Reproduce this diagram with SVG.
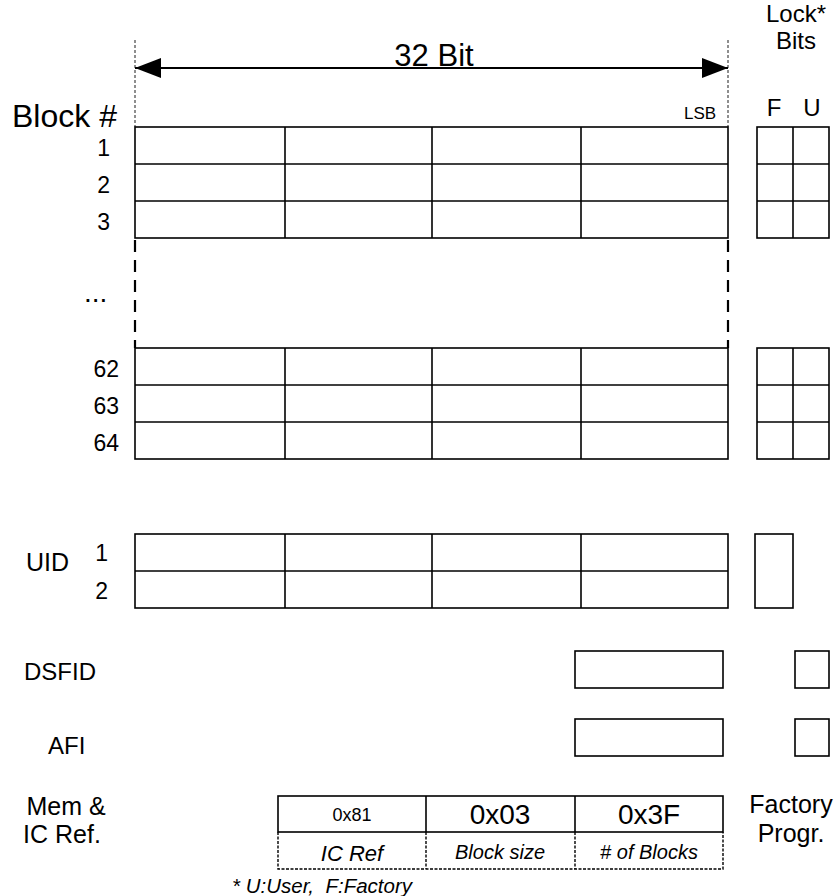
<svg xmlns="http://www.w3.org/2000/svg" width="838" height="896" viewBox="0 0 838 896">
<defs>
<style>
.c{fill:none;stroke:#000;stroke-width:1.6}
.t{font-family:"Liberation Sans",Arial,sans-serif;fill:#000}
.dash{fill:none;stroke:#000;stroke-width:2.2;stroke-dasharray:12 8}
.fine{fill:none;stroke:#444;stroke-width:1.2;stroke-dasharray:3 2}
.dot{fill:none;stroke:#000;stroke-width:1.4;stroke-dasharray:3 1.5}
</style>
<marker id="ah2" viewBox="0 0 26 20" refX="26" refY="10" markerWidth="26" markerHeight="20" markerUnits="userSpaceOnUse" orient="auto-start-reverse"><path d="M0,0 L26,10 L0,20 z" fill="#000"/></marker>
</defs>
<rect width="838" height="896" fill="#fff"/>

<g id="header">
<line class="fine" x1="135" y1="40" x2="135" y2="127"/>
<line class="fine" x1="728" y1="40" x2="728" y2="127"/>
<line x1="135" y1="68" x2="728" y2="68" stroke="#000" stroke-width="2" marker-start="url(#ah2)" marker-end="url(#ah2)"/>
<text class="t" x="434" y="66" font-size="31" text-anchor="middle">32 Bit</text>
<text class="t" x="700" y="119" font-size="17" text-anchor="middle">LSB</text>
<text class="t" x="12" y="127" font-size="32">Block #</text>
<text class="t" x="796" y="22" font-size="24" text-anchor="middle">Lock*</text>
<text class="t" x="796" y="49" font-size="24" text-anchor="middle">Bits</text>
<text class="t" x="774" y="116" font-size="24" text-anchor="middle">F</text>
<text class="t" x="812" y="116" font-size="24" text-anchor="middle">U</text>
</g>

<g id="blocks-top">
<rect class="c" x="135" y="127" width="593" height="111"/>
<line class="c" x1="135" y1="164" x2="728" y2="164"/>
<line class="c" x1="135" y1="201" x2="728" y2="201"/>
<line class="c" x1="285" y1="127" x2="285" y2="238"/>
<line class="c" x1="432" y1="127" x2="432" y2="238"/>
<line class="c" x1="581" y1="127" x2="581" y2="238"/>
<text class="t" x="110" y="156" font-size="23" text-anchor="end">1</text>
<text class="t" x="110" y="193" font-size="23" text-anchor="end">2</text>
<text class="t" x="110" y="230" font-size="23" text-anchor="end">3</text>
</g>

<g id="lock-top">
<rect class="c" x="757" y="127" width="72" height="111"/>
<line class="c" x1="757" y1="164" x2="829" y2="164"/>
<line class="c" x1="757" y1="201" x2="829" y2="201"/>
<line class="c" x1="793" y1="127" x2="793" y2="238"/>
</g>

<g id="gap">
<line class="dash" x1="135" y1="240" x2="135" y2="348"/>
<line class="dash" x1="728" y1="240" x2="728" y2="348"/>
<text class="t" x="84" y="302" font-size="28">...</text>
</g>

<g id="blocks-bottom">
<rect class="c" x="135" y="348" width="593" height="111"/>
<line class="c" x1="135" y1="385" x2="728" y2="385"/>
<line class="c" x1="135" y1="422" x2="728" y2="422"/>
<line class="c" x1="285" y1="348" x2="285" y2="459"/>
<line class="c" x1="432" y1="348" x2="432" y2="459"/>
<line class="c" x1="581" y1="348" x2="581" y2="459"/>
<text class="t" x="119" y="377" font-size="23" text-anchor="end">62</text>
<text class="t" x="119" y="414" font-size="23" text-anchor="end">63</text>
<text class="t" x="119" y="451" font-size="23" text-anchor="end">64</text>
</g>

<g id="lock-bottom">
<rect class="c" x="757" y="348" width="72" height="111"/>
<line class="c" x1="757" y1="385" x2="829" y2="385"/>
<line class="c" x1="757" y1="422" x2="829" y2="422"/>
<line class="c" x1="793" y1="348" x2="793" y2="459"/>
</g>

<g id="uid">
<rect class="c" x="135" y="534" width="593" height="74"/>
<line class="c" x1="135" y1="571" x2="728" y2="571"/>
<line class="c" x1="285" y1="534" x2="285" y2="608"/>
<line class="c" x1="432" y1="534" x2="432" y2="608"/>
<line class="c" x1="581" y1="534" x2="581" y2="608"/>
<text class="t" x="26" y="571" font-size="25">UID</text>
<text class="t" x="108" y="561" font-size="23" text-anchor="end">1</text>
<text class="t" x="108" y="599" font-size="23" text-anchor="end">2</text>
<rect class="c" x="755" y="534" width="38" height="74"/>
</g>

<g id="dsfid">
<text class="t" x="24" y="680" font-size="24">DSFID</text>
<rect class="c" x="575" y="651" width="148" height="37"/>
<rect class="c" x="795" y="651" width="34" height="37"/>
</g>

<g id="afi">
<text class="t" x="48" y="754" font-size="24">AFI</text>
<rect class="c" x="575" y="719" width="148" height="37"/>
<rect class="c" x="795" y="719" width="34" height="37"/>
</g>

<g id="memref">
<text class="t" x="66" y="815" font-size="25" text-anchor="middle">Mem &amp;</text>
<text class="t" x="62" y="843" font-size="25" text-anchor="middle">IC Ref.</text>
<rect class="c" x="278" y="796" width="445" height="36"/>
<line class="c" x1="426" y1="796" x2="426" y2="832"/>
<line class="c" x1="575" y1="796" x2="575" y2="832"/>
<path class="dot" d="M278,832 V869 H723 V832 M426,832 V869 M575,832 V869"/>
<text class="t" x="352" y="821" font-size="18" text-anchor="middle">0x81</text>
<text class="t" x="500" y="824" font-size="28" text-anchor="middle">0x03</text>
<text class="t" x="649" y="824" font-size="28" text-anchor="middle">0x3F</text>
<text class="t" x="352" y="861" font-size="22" font-style="italic" text-anchor="middle">IC Ref</text>
<text class="t" x="500" y="859" font-size="20" font-style="italic" text-anchor="middle">Block size</text>
<text class="t" x="649" y="859" font-size="20" font-style="italic" text-anchor="middle"># of Blocks</text>
<text class="t" x="791" y="813" font-size="25" text-anchor="middle">Factory</text>
<text class="t" x="791" y="842" font-size="25" text-anchor="middle">Progr.</text>
</g>

<text class="t" x="232" y="893" font-size="20.5" font-style="italic" xml:space="preserve">* U:User,  F:Factory</text>
</svg>
